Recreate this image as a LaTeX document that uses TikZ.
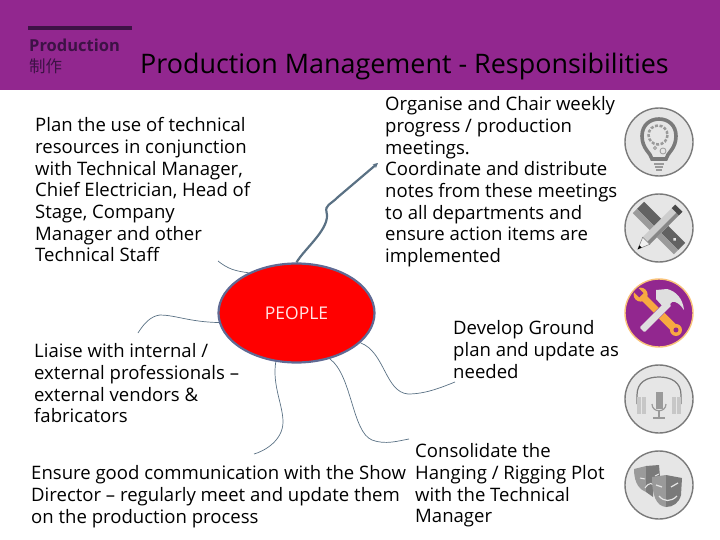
\documentclass[tikz,border=0pt]{standalone}
\usepackage{fontspec}
\setmainfont{Open Sans}
\newfontfamily\cjkfont{Noto Sans CJK SC}
\usetikzlibrary{positioning,arrows.meta,shapes.geometric}
\definecolor{bandpurple}{HTML}{92278F}
\definecolor{darkpurple}{HTML}{3D1245}
\definecolor{linkblue}{HTML}{5A7184}
\definecolor{rimblue}{HTML}{5F6A94}
\definecolor{ringgrey}{HTML}{7A7A7A}
\definecolor{discgrey}{HTML}{E6E6E6}
\definecolor{midgrey}{HTML}{9A9A9A}
\definecolor{toolorange}{HTML}{F7A941}
\begin{document}
\begin{tikzpicture}[
        x=1pt, y=-1pt,
        >={Stealth[round]},
        txt/.style={anchor=north west, align=left, inner sep=0pt, font=\fontsize{18.55}{21.65}\selectfont},
        link/.style={draw=linkblue, line width=0.7pt},
        disc/.style={circle, draw=ringgrey, fill=discgrey, line width=1.4pt, minimum size=68pt, inner sep=0pt}
    ]
        \useasboundingbox (0,0) rectangle (720,540);
        \fill[bandpurple] (0,0) rectangle (720,90);
        \draw[darkpurple, line width=3.2pt] (28,28) -- (132,28);
        \node[anchor=west, inner sep=0pt, text=darkpurple, font=\fontsize{16.5}{18}\selectfont\bfseries] (sect) at (29,45) {Production};
        \node[anchor=west, inner sep=0pt, text=darkpurple, font=\fontsize{16.5}{18}\cjkfont] (sectcn) at (29,66) {制作};
        \node[anchor=base west, inner sep=0pt, font=\fontsize{26.9}{30}\selectfont] (title) at (140,74) {Production Management - Responsibilities};

        \node[txt] (plan) at (35,117.5) {Plan the use of technical\\resources in conjunction\\with Technical Manager,\\Chief Electrician, Head of\\Stage, Company\\Manager and other\\Technical Staff};
        \node[txt] (chair) at (385,96.5) {Organise and Chair weekly\\progress / production\\meetings.\\Coordinate and distribute\\notes from these meetings\\to all departments and\\ensure action items are\\implemented};
        \node[txt] (liaise) at (34,343.5) {Liaise with internal /\\external professionals --\\external vendors \&\\fabricators};
        \node[txt] (ground) at (453,320.5) {Develop Ground\\plan and update as\\needed};
        \node[txt] (comms) at (31,465.5) {Ensure good communication with the Show\\Director -- regularly meet and update them\\on the production process};
        \node[txt] (rig) at (415,443.5) {Consolidate the\\Hanging / Rigging Plot\\with the Technical\\Manager};

        \node[ellipse, draw=rimblue, fill=red, line width=2.2pt, minimum width=156pt, minimum height=99pt, inner sep=0pt] (ppl) at (296.5,313) {};
        \node[inner sep=0pt, text=white!90!red, font=\fontsize{17.5}{20}\selectfont] (ppltxt) at (296.5,313) {PEOPLE};

        % free ends of the branches
        \coordinate (e1) at (378,163);
        \coordinate (e2) at (218,261);
        \coordinate (e3) at (138,333);
        \coordinate (e4) at (455,382);
        \coordinate (e5) at (409,439);
        \coordinate (e6) at (254,454);

        \draw[->, draw=linkblue, line width=2.2pt, >={Stealth[length=5pt,width=5pt]}] (ppl.90) .. controls (305,248) and (331,228) .. (326.5,212) .. controls (325,205) and (330,205) .. (338,197) -- (e1);
        \draw[link] (ppl.140) .. controls (235,271) and (228,269) .. (e2);
        \draw[link] (ppl.187) .. controls (190,322) and (175,315) .. (160,315) .. controls (150,316) and (143,325) .. (e3);
        \draw[link] (ppl.-25) .. controls (385,352) and (385,392) .. (408,394) .. controls (425,394) and (440,388) .. (e4);
        \draw[link] (ppl.-54) .. controls (352,375) and (352,432) .. (372,440) .. controls (385,445) and (398,441) .. (e5);
        \draw[link] (ppl.-113) .. controls (272,385) and (283,405) .. (283,422) .. controls (283,440) and (265,451) .. (e6);

        % bulb
        \node[disc] (ic1) at (659,142) {};
        \begin{scope}[shift={(659,142)}]
            \draw[ringgrey, line width=3.6pt] (-7,17) .. controls (-8,11) and (-17,7) .. (-17,-6) .. controls (-17,-17) and (-9,-23) .. (0,-23) .. controls (9,-23) and (17,-17) .. (17,-6) .. controls (17,7) and (8,11) .. (7,17) -- cycle;
            \draw[midgrey, line width=2.5pt, dash pattern=on 3pt off 1.6pt] (-1,-7) circle (9.5);
            \fill[discgrey] (-1,-7) circle (5.5);
            \draw[midgrey, line width=0.8pt] (4,9) circle (3) (-4,6) circle (1.5);
            \draw[midgrey, line width=1.2pt] (-5,22) -- (5,22) (-4,25) -- (4,25) (-3,28) -- (3,28);
        \end{scope}

        % ruler and pencil
        \node[disc] (ic2) at (659,228) {};
        \begin{scope}[shift={(659,228)}]
            \begin{scope}[rotate=-45]
                \fill[ringgrey!80!black] (-29,-8) rectangle (29,2);
                \fill[midgrey] (-29,2) rectangle (29,8);
                \fill[discgrey] (19,-3) circle (1.8);
            \end{scope}
            \begin{scope}[rotate=45]
                \fill[midgrey!50!white] (-18,-5) rectangle (28,5);
                \fill[ringgrey!90!white] (-18,1.5) rectangle (28,5);
                \fill[ringgrey!60!black] (23,-5) rectangle (28,5);
                \fill[white!88!gray, draw=ringgrey, line width=0.5pt] (-18,-5) -- (-30,0) -- (-18,5) -- cycle;
                \fill[black] (-30,0) -- (-26,-1.6) -- (-26,1.6) -- cycle;
            \end{scope}
        \end{scope}

        % hammer and spanner
        \node[disc, draw=toolorange!70!white, fill=bandpurple] (ic3) at (659,313) {};
        \begin{scope}[shift={(659,313)}]
            \begin{scope}[rotate=-45]
                \fill[toolorange] (-26,0) circle (7);
                \fill[bandpurple] (-33,-3) rectangle (-25,3);
                \fill[toolorange] (-22,-3.5) rectangle (-4,3.5);
                \fill[toolorange] (4,-4) rectangle (26,4);
                \fill[toolorange] (24,0) circle (6);
                \fill[bandpurple] (24,0) circle (2.5);
            \end{scope}
            \begin{scope}[rotate=45]
                \fill[white!75!gray, rounded corners=1pt] (-24,-3.5) rectangle (14,3.5);
            \end{scope}
            \fill[white!75!gray] (-3,-23) -- (8,-24) .. controls (17,-22) and (24,-14) .. (25,-3) .. controls (21,-9) and (17,-12) .. (13,-11) -- (6,-4) -- (-3,-14) -- cycle;
        \end{scope}

        % headset and microphone
        \node[disc] (ic4) at (659,399) {};
        \begin{scope}[shift={(659,399)}]
            \draw[ringgrey, line width=1.2pt] (-22,5) -- (-22,-4) .. controls (-22,-17) and (-12,-22) .. (0,-22) .. controls (12,-22) and (22,-17) .. (22,-4) -- (22,5);
            \foreach \dx in {-20,-15,15,20} {
                \fill[midgrey!55!white] (\dx-2,-2) rectangle (\dx+2,15);
            }
            \fill[midgrey] (-3.5,-7) rectangle (3.5,10);
            \draw[midgrey, line width=1.2pt] (-7,5) .. controls (-7,14) and (7,14) .. (7,5);
            \draw[midgrey, line width=1.4pt] (0,12) -- (0,18);
            \fill[midgrey] (-6,18) rectangle (6,20);
        \end{scope}

        % masks
        \node[disc] (ic5) at (659,485) {};
        \begin{scope}[shift={(659,485)}]
            \fill[midgrey] (-25,-16) -- (-13,-19) -- (-13,7) .. controls (-18,5) and (-25,0) .. cycle;
            \fill[ringgrey] (-13,-19) -- (0,-20) -- (1,-8) -- (-6,-5) -- (-6,12) -- (-13,7) -- cycle;
            \draw[discgrey, line width=1pt] (-19,-7) -- (-14,-6) (-4,-9) -- (0,-11) (-14,3) .. controls (-10,-3) and (-6,-3) .. (-4,3);
            \fill[midgrey] (-7,-8) -- (7,-10) -- (7,22) .. controls (-3,21) and (-7,10) .. cycle;
            \fill[ringgrey] (7,-10) -- (23,-7) -- (22,10) .. controls (20,18) and (14,22) .. (7,22) -- cycle;
            \draw[discgrey, line width=1.2pt] (-3,0) -- (3,2) (12,2) -- (19,-2) (0,11) .. controls (5,17) and (12,17) .. (18,11);
        \end{scope}
    \end{tikzpicture}
\end{document}
